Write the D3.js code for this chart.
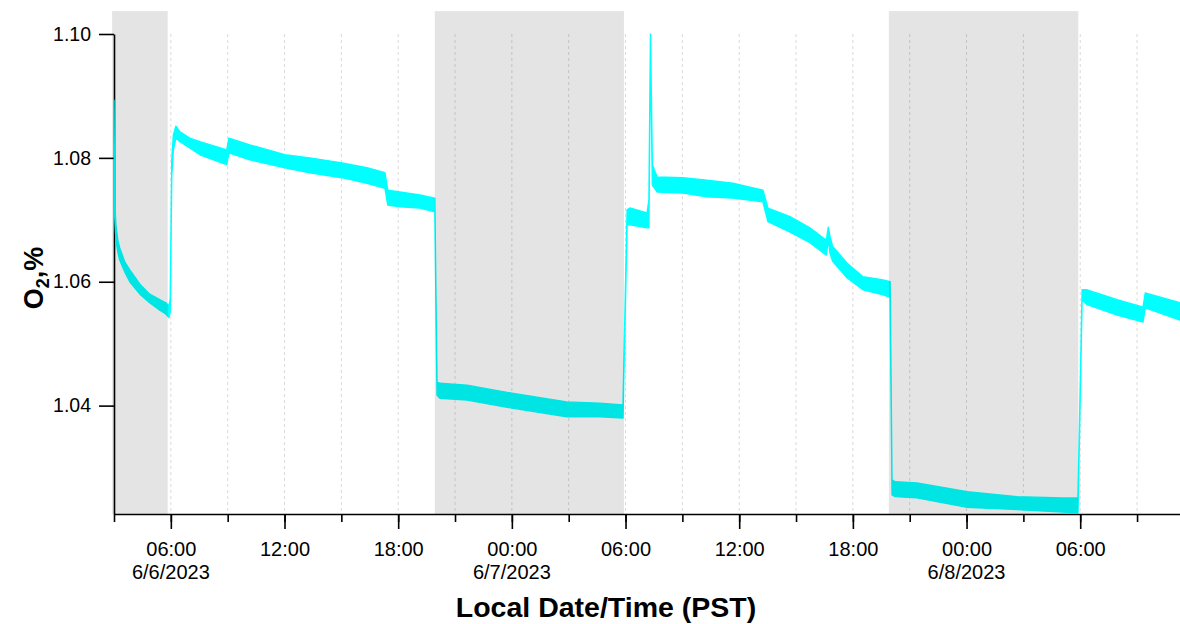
<!DOCTYPE html>
<html>
<head>
<meta charset="utf-8">
<script src="https://cdn.jsdelivr.net/npm/d3@7"></script>
<style>
  html, body { margin: 0; padding: 0; background: #fff; }
  svg { display: block; font-family: "Liberation Sans", Arial, sans-serif; }
</style>
</head>
<body>
<svg id="chart" width="1180" height="624"></svg>
<script>
// O2 record, Local time (PST). Each sample keeps the upper and lower edge of the noise band.
const times = [
  "2023-06-06 03:00", "2023-06-06 03:02", "2023-06-06 03:06", "2023-06-06 03:12", "2023-06-06 03:18",
  "2023-06-06 03:34", "2023-06-06 03:50", "2023-06-06 04:22", "2023-06-06 04:53", "2023-06-06 05:25",
  "2023-06-06 05:44", "2023-06-06 05:54", "2023-06-06 05:58", "2023-06-06 06:03", "2023-06-06 06:08",
  "2023-06-06 06:16", "2023-06-06 06:29", "2023-06-06 07:00", "2023-06-06 07:32", "2023-06-06 08:57",
  "2023-06-06 09:04", "2023-06-06 10:10", "2023-06-06 12:01", "2023-06-06 13:20", "2023-06-06 15:02",
  "2023-06-06 16:21", "2023-06-06 17:18", "2023-06-06 17:27", "2023-06-06 18:05", "2023-06-06 19:09",
  "2023-06-06 19:56", "2023-06-06 20:03", "2023-06-06 20:12", "2023-06-06 21:38", "2023-06-07 00:00",
  "2023-06-07 02:54", "2023-06-07 04:39", "2023-06-07 05:52", "2023-06-07 06:05", "2023-06-07 06:14",
  "2023-06-07 07:08", "2023-06-07 07:14", "2023-06-07 07:19", "2023-06-07 07:25", "2023-06-07 07:40",
  "2023-06-07 09:02", "2023-06-07 10:18", "2023-06-07 11:40", "2023-06-07 13:15", "2023-06-07 13:31",
  "2023-06-07 14:41", "2023-06-07 15:44", "2023-06-07 16:36", "2023-06-07 16:42", "2023-06-07 16:48",
  "2023-06-07 16:56", "2023-06-07 17:42", "2023-06-07 18:32", "2023-06-07 19:36", "2023-06-07 19:58",
  "2023-06-07 20:04", "2023-06-07 20:14", "2023-06-07 21:23", "2023-06-08 00:02", "2023-06-08 02:40",
  "2023-06-08 05:06", "2023-06-08 05:53", "2023-06-08 06:06", "2023-06-08 06:22", "2023-06-08 07:57",
  "2023-06-08 09:19", "2023-06-08 09:26", "2023-06-08 11:16"
];
const o2High = [
  1.0893, 1.0732, 1.0692, 1.0667, 1.0655,
  1.0632, 1.0619, 1.0596, 1.0580, 1.0571,
  1.0566, 1.0561, 1.0571, 1.0797, 1.0837,
  1.0851, 1.0842, 1.0832, 1.0826, 1.0813,
  1.0832, 1.0821, 1.0805, 1.0800, 1.0792,
  1.0784, 1.0776, 1.0748, 1.0745, 1.0740,
  1.0735, 1.0438, 1.0436, 1.0433, 1.0420,
  1.0406, 1.0404, 1.0401, 1.0716, 1.0719,
  1.0711, 1.0732, 1.1000, 1.0789, 1.0769,
  1.0768, 1.0764, 1.0759, 1.0748, 1.0719,
  1.0705, 1.0687, 1.0667, 1.0688, 1.0672,
  1.0657, 1.0630, 1.0608, 1.0603, 1.0600,
  1.0280, 1.0277, 1.0275, 1.0261, 1.0253,
  1.0251, 1.0251, 1.0587, 1.0587, 1.0571,
  1.0559, 1.0582, 1.0566
];
const o2Low = [
  1.0877, 1.0708, 1.0667, 1.0648, 1.0635,
  1.0616, 1.0600, 1.0580, 1.0566, 1.0554,
  1.0548, 1.0542, 1.0551, 1.0772, 1.0813,
  1.0832, 1.0826, 1.0816, 1.0805, 1.0789,
  1.0808, 1.0797, 1.0784, 1.0776, 1.0768,
  1.0759, 1.0751, 1.0724, 1.0721, 1.0719,
  1.0713, 1.0417, 1.0412, 1.0409, 1.0396,
  1.0382, 1.0382, 1.0380, 1.0692, 1.0692,
  1.0687, 1.0687, 1.0982, 1.0756, 1.0745,
  1.0743, 1.0737, 1.0735, 1.0729, 1.0697,
  1.0680, 1.0663, 1.0643, 1.0668, 1.0645,
  1.0633, 1.0606, 1.0587, 1.0579, 1.0575,
  1.0256, 1.0253, 1.0251, 1.0236, 1.0232,
  1.0228, 1.0227, 1.0571, 1.0563, 1.0546,
  1.0535, 1.0558, 1.0538
];

// Night-time periods (sunset to sunrise)
const nightStart = ["2023-06-06 02:54", "2023-06-06 19:56", "2023-06-07 19:54"];
const nightEnd   = ["2023-06-06 05:50", "2023-06-07 05:55", "2023-06-08 05:54"];
const nightTop = 1.1037;
const nightBottom = 1.0225;

// Axis settings
const xDomain = ["2023-06-06 03:00", "2023-06-08 11:16"];
const yDomain = [1.0225, 1.10];
const yTicks = [1.04, 1.06, 1.08, 1.10];
const dateTicks = ["2023-06-06 06:00", "2023-06-07 00:00", "2023-06-08 00:00"];

(function draw() {
  const parse = d3.timeParse("%Y-%m-%d %H:%M");
  const data = times.map((t, i) => ({ t: parse(t), hi: o2High[i], lo: o2Low[i] }));

  const svg = d3.select("#chart");
  const plotLeft = 114, plotRight = 1180, plotTop = 34, plotBottom = 514;

  const x = d3.scaleTime().domain(xDomain.map(parse)).range([plotLeft, plotRight]);
  const y = d3.scaleLinear().domain(yDomain).range([plotBottom, plotTop]);

  // vertical dashed grid every 3 hours
  const gridTicks = d3.timeHour.every(3).range(x.domain()[0], x.domain()[1])
    .filter(d => x(d) > plotLeft + 1);
  svg.append("g").selectAll("line").data(gridTicks).join("line")
    .attr("x1", d => x(d)).attr("x2", d => x(d))
    .attr("y1", plotTop).attr("y2", plotBottom)
    .attr("stroke", "#dadada").attr("stroke-width", 1)
    .attr("stroke-dasharray", "3,3");

  // axes
  const axisStyle = g => {
    g.select(".domain").attr("stroke", "#000").attr("stroke-width", 1.6);
    g.selectAll(".tick line").attr("stroke", "#000").attr("stroke-width", 1.6);
  };

  svg.append("g").attr("transform", `translate(0,${plotBottom})`)
    .call(d3.axisBottom(x).ticks(d3.timeHour.every(3)).tickSize(8).tickSizeOuter(0).tickFormat(""))
    .call(axisStyle);

  const xMajor = svg.append("g").attr("transform", `translate(0,${plotBottom})`)
    .call(d3.axisBottom(x).ticks(d3.timeHour.every(6)).tickSize(15).tickSizeOuter(0)
      .tickFormat(d3.timeFormat("%H:%M")))
    .call(axisStyle);
  xMajor.select(".domain").remove();
  xMajor.selectAll(".tick text")
    .attr("y", 42).attr("dy", 0)
    .attr("font-size", 20).attr("fill", "#000")
    .attr("font-family", "'Liberation Sans', Arial, sans-serif");

  svg.append("g").selectAll("text").data(dateTicks.map(parse)).join("text")
    .attr("x", d => x(d)).attr("y", 579)
    .attr("text-anchor", "middle").attr("font-size", 20).attr("fill", "#000")
    .text(d3.timeFormat("%-m/%-d/%Y"));

  const yAxis = svg.append("g").attr("transform", `translate(${plotLeft},0)`)
    .call(d3.axisLeft(y).tickValues(yTicks).tickSize(15).tickSizeOuter(0).tickPadding(8)
      .tickFormat(d3.format(".2f")))
    .call(axisStyle);
  yAxis.selectAll(".tick text")
    .attr("font-size", 19.5).attr("fill", "#000")
    .attr("font-family", "'Liberation Sans', Arial, sans-serif");

  // O2 trace as a band between upper and lower noise edges
  const band = d3.area()
    .x(d => x(d.t))
    .y0(d => y(d.lo))
    .y1(d => y(d.hi));
  svg.append("path").datum(data)
    .attr("d", band)
    .attr("fill", "#00ffff")
    .attr("stroke", "#00ffff")
    .attr("stroke-width", 1.4)
    .attr("stroke-linejoin", "round");

  // night shading, drawn translucent over the trace
  svg.append("g").selectAll("rect")
    .data(nightStart.map((s, i) => [parse(s), parse(nightEnd[i])])).join("rect")
    .attr("x", d => x(d[0]))
    .attr("width", d => x(d[1]) - x(d[0]))
    .attr("y", y(nightTop))
    .attr("height", y(nightBottom) - y(nightTop))
    .attr("fill", "#000").attr("fill-opacity", 0.105);

  // axis titles
  svg.append("text")
    .attr("x", 606).attr("y", 617)
    .attr("text-anchor", "middle")
    .attr("font-size", 28.5).attr("font-weight", "bold").attr("fill", "#000")
    .text("Local Date/Time (PST)");

  const yTitle = svg.append("text")
    .attr("transform", "translate(43,278) rotate(-90)")
    .attr("text-anchor", "middle")
    .attr("font-size", 27).attr("font-weight", "bold").attr("fill", "#000");
  yTitle.append("tspan").text("O");
  yTitle.append("tspan").attr("font-size", 18).attr("dy", 6).text("2");
  yTitle.append("tspan").attr("dy", -6).text(",%");
})();
</script>
</body>
</html>
